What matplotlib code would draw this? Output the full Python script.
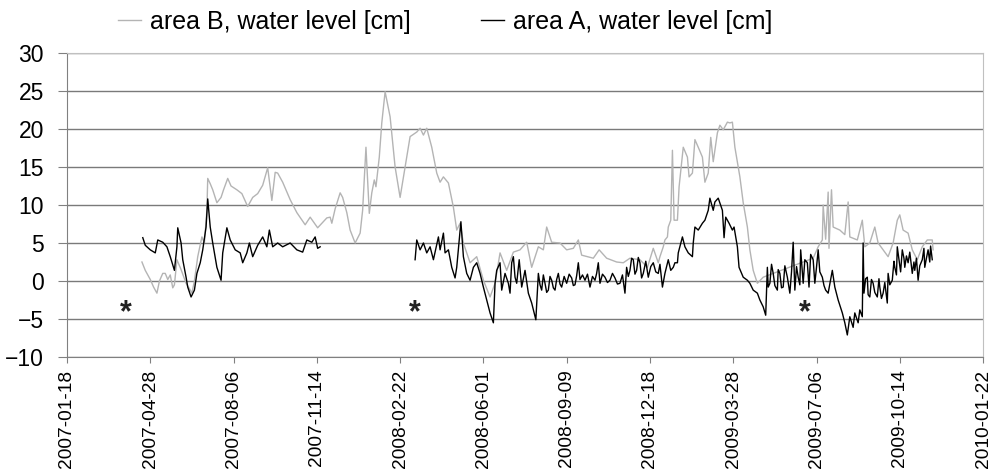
import numpy as np
import matplotlib
matplotlib.use("Agg")
import matplotlib.pyplot as plt
import matplotlib.dates as mdates

plt.rcParams['font.family'] = ['Liberation Sans', 'DejaVu Sans']

# days counted from 2007-01-18
start = np.datetime64('2007-01-18')

# area A, water level [cm], first logger period
a_days_1 = [91, 94, 100, 106, 109, 115, 120, 124, 129, 132,
            133, 137, 139, 143, 145, 149, 153, 156, 160, 163,
            167, 169, 172, 175, 180, 185, 187, 192, 196, 202,
            208, 211, 216, 219, 223, 229, 235, 240, 243, 247,
            253, 259, 268, 276, 283, 288, 294, 298, 301, 304]
a_vals_1 = [5.7, 4.7, 4.1, 3.7, 5.4, 5.1, 4.5, 3.2, 1.4, 4.5,
            7.0, 5.0, 2.8, 0.5, -0.8, -2.1, -1.2, 1.0, 2.4, 4.1,
            7.1, 10.8, 7.1, 5.0, 1.8, 0.1, 3.7, 7.0, 5.4, 4.1,
            3.7, 2.4, 3.7, 5.0, 3.2, 4.7, 5.8, 4.5, 6.7, 4.5,
            5.0, 4.5, 5.0, 4.1, 3.8, 5.4, 5.1, 5.8, 4.3, 4.5]

# area A, water level [cm], second logger period
a_days_2 = [418, 420, 424, 428, 432, 436, 440, 446, 448, 452,
            454, 458, 462, 466, 468, 471, 473, 476, 480, 484,
            488, 492, 496, 500, 504, 508, 512, 514, 516, 520,
            522, 526, 530, 532, 534, 536, 538, 540, 543, 546,
            550, 554, 558, 563, 566, 568, 570, 572, 574, 576,
            578, 580, 582, 584, 586, 588, 590, 592, 594, 597,
            600, 603, 606, 608, 610, 612, 614, 616, 619, 622,
            625, 628, 631, 634, 636, 638, 640, 643, 646, 649,
            652, 655, 658, 661, 664, 667, 670, 672, 674, 676,
            678, 680, 682, 684, 686, 688, 690, 692, 695, 698,
            701, 704, 707, 710, 712, 715, 718, 722, 725, 728,
            730, 733, 734, 739, 742, 746, 751, 752, 754, 758,
            763, 766, 770, 772, 776, 778, 782, 787, 789, 791,
            795, 799, 801, 805, 807, 812, 817, 820, 824, 829,
            832, 836, 839, 841, 842, 844, 846, 848, 850, 853,
            854, 856, 858, 860, 862, 865, 867, 868, 870, 872,
            874, 876, 878, 880, 881, 884, 886, 889, 891, 893,
            896, 898, 900, 902, 904, 907, 909, 911, 914, 919,
            922, 926, 931, 934, 937, 940, 944, 946, 950, 952,
            955, 956, 957, 959, 961, 962, 964, 966, 968, 970,
            973, 975, 976, 978, 980, 982, 985, 986, 988, 991,
            993, 994, 996, 997, 999, 1001, 1003, 1005, 1006, 1008,
            1010, 1012, 1015, 1017, 1018, 1020, 1022, 1024, 1027, 1029,
            1030, 1032, 1034, 1036, 1037, 1039]
a_vals_2 = [2.8, 5.4, 4.1, 5.0, 3.7, 4.5, 2.8, 5.8, 4.1, 6.3,
            3.7, 4.1, 1.8, 0.4, 1.8, 5.4, 7.8, 3.2, 1.0, 0.1,
            1.8, 2.4, 1.0, -0.8, -2.5, -4.2, -5.5, -0.3, 1.4, 2.4,
            -1.2, 1.0, -0.3, -1.6, 2.4, 3.2, 0.5, -0.3, 2.8, -0.8,
            1.4, -1.6, -2.9, -5.1, 1.0, -0.5, -1.2, 0.8, -0.3, -1.5,
            -1.2, 0.6, 0.1, -0.9, -1.2, 0.2, 1.0, -0.4, -0.8, 0.6,
            -0.3, 0.9, 0.4, -0.6, -0.5, 0.7, 2.4, 0.2, 0.8, 0.1,
            0.9, -0.8, 0.6, 0.1, 1.0, 2.4, -0.3, 0.9, 0.5, -0.2,
            0.1, 1.0, 0.4, -0.4, -0.3, 0.8, -1.6, 1.8, 0.6, 1.4,
            3.0, 2.8, 0.9, 1.4, 3.1, 2.4, 0.4, 1.0, 2.6, 0.5,
            1.9, 2.4, 1.2, 1.0, 2.2, -0.8, 1.0, 2.8, 1.4, 1.8,
            2.4, 2.4, 3.7, 5.8, 4.5, 3.7, 3.2, 5.0, 7.1, 6.7,
            7.6, 8.0, 9.3, 10.9, 9.3, 10.4, 10.9, 9.3, 5.7, 8.4,
            7.6, 6.7, 7.1, 4.5, 1.8, 0.5, 0.1, -0.3, -1.2, -1.6,
            -2.5, -3.4, -4.5, 1.8, -0.8, -0.3, 2.2, 1.0, -0.6, -1.2,
            1.5, 1.0, -0.9, -0.8, 2.0, 0.5, -0.9, -1.6, 1.2, 5.1,
            -1.2, 1.9, 0.5, -0.5, 4.1, -0.3, 2.8, 2.4, -0.8, 3.5,
            2.8, -0.3, 1.8, 4.1, 1.2, 0.5, -0.6, -1.2, -1.6, 1.4,
            -0.8, -2.5, -4.2, -5.5, -7.1, -4.7, -6.1, -4.2, -5.5, -3.8,
            -4.7, 5.0, -1.6, 0.3, 0.5, -1.8, -2.1, 0.2, -0.3, -1.5,
            -2.1, 0.3, -0.8, -2.3, -1.6, -0.2, -2.9, 1.0, -0.5, 0.1,
            2.6, 1.8, 0.8, 4.5, 2.8, 1.2, 4.1, 3.0, 1.8, 3.3,
            2.4, 3.8, 1.0, 2.5, 1.4, 3.0, 0.1, 2.0, 2.8, 4.3,
            1.8, 3.0, 4.1, 2.5, 4.6, 2.8]

# area B, water level [cm]
b_days = [90, 94, 100, 104, 108, 111, 115, 118, 121, 124, 127, 129, 132, 137, 143,
          147, 150, 153, 157, 162, 165, 168, 169, 172, 175, 180, 185, 188, 193, 197,
          204, 210, 217, 223, 229, 235, 241, 246, 250, 253, 259, 268, 276, 286, 292,
          301, 312, 316, 318, 322, 328, 331, 336, 340, 346, 352, 355, 359, 363, 366,
          369, 371, 375, 378, 382, 388, 394, 400, 406, 412, 420, 424, 428, 432, 438,
          444, 448, 452, 458, 464, 468, 472, 476, 484, 492, 500, 508, 514, 520, 528,
          536, 544, 552, 558, 566, 572, 576, 582, 592, 600, 608, 614, 618, 632, 639,
          648, 660, 668, 676, 688, 697, 704, 710, 712, 716, 718, 721, 722, 725, 727,
          729, 733, 735, 740, 745, 747, 751, 754, 758, 763, 766, 770, 773, 776, 781,
          784, 788, 793, 796, 799, 802, 808, 812, 817, 820, 824, 829, 836, 848, 860,
          872, 884, 896, 902, 907, 908, 911, 914, 915, 918, 920, 928, 934, 938, 940,
          949, 952, 955, 958, 964, 970, 974, 980, 986, 992, 997, 1000, 1004, 1010, 1015,
          1021, 1027, 1033, 1039, 1040]
b_vals = [2.5, 1.4, 0.2, -0.8, -1.6, 0.0, 1.0, 1.0, 0.2, 0.8, -0.9, -0.5, 2.8, 1.5, -0.3,
          -1.0, -1.6, 0.0, 3.2, 5.8, 5.0, 9.3, 13.5, 12.8, 12.0, 10.3, 11.0, 12.0, 13.5, 12.5,
          12.0, 11.5, 9.8, 11.0, 11.5, 12.6, 14.9, 10.6, 14.3, 14.2, 13.0, 10.7, 9.0, 7.4, 8.4,
          7.0, 8.3, 8.4, 7.6, 9.5, 11.6, 11.0, 9.0, 6.7, 5.0, 6.3, 9.3, 17.6, 8.9, 11.6,
          13.3, 12.4, 16.3, 20.8, 24.9, 21.6, 15.0, 11.0, 15.0, 19.0, 19.6, 20.1, 19.2, 20.1, 17.6,
          14.2, 13.0, 13.7, 12.9, 9.7, 6.7, 7.6, 5.0, 2.4, 3.2, 0.1, -2.1, -0.3, 3.7, 1.4,
          3.8, 4.1, 5.1, 1.8, 4.5, 4.1, 7.1, 5.1, 5.0, 4.1, 4.3, 5.4, 3.4, 3.0, 4.1,
          3.0, 2.5, 2.4, 3.0, 2.8, 1.8, 4.3, 2.4, 3.2, 4.5, 5.4, 5.8, 7.1, 8.0, 17.2,
          8.0, 8.0, 12.4, 17.6, 16.3, 13.7, 14.2, 18.6, 17.6, 16.3, 13.0, 14.2, 18.9, 15.7, 19.5,
          20.5, 19.9, 20.9, 20.8, 20.9, 17.6, 13.7, 10.3, 7.1, 4.1, 1.4, -0.3, 0.5, 1.0, 1.5,
          2.0, 2.5, 3.0, 4.5, 5.4, 10.0, 5.5, 11.7, 4.3, 12.0, 7.1, 6.7, 6.1, 10.4, 5.8,
          5.4, 6.7, 8.0, 4.5, 5.0, 7.1, 5.0, 4.1, 3.2, 5.0, 8.0, 8.7, 6.7, 6.3, 4.1,
          2.8, 4.5, 5.4, 5.4, 4.1]

# days marked with an asterisk
star_days = [71, 418, 886]
star_level = -4.3

tick_days = np.arange(0, 1101, 100)


def to_dates(days):
    return start + np.array(days).astype('timedelta64[D]')


# one line for area A, broken by a nan between the two periods
a_dates = np.concatenate([to_dates(a_days_1), [np.datetime64('NaT')], to_dates(a_days_2)])
a_vals = np.concatenate([a_vals_1, [np.nan], a_vals_2])
b_dates = to_dates(b_days)
star_dates = to_dates(star_days)
tick_dates = to_dates(tick_days)

fig = plt.figure(figsize=(9.88, 4.69), dpi=100)
ax = fig.add_axes([0.0678, 0.2388, 0.9272, 0.6482])

ax.plot(b_dates, b_vals, color='#b4b4b4', lw=1.0, label='area B, water level [cm]')
ax.plot(a_dates, a_vals, color='#000000', lw=1.0, label='area A, water level [cm]')

for d in star_dates:
    ax.text(d, star_level, '*', ha='center', va='center', fontsize=22,
            fontweight='bold', color='#222222')

ax.set_ylim(-10, 30)
ax.set_yticks(np.arange(-10, 31, 5))
ax.set_xlim(tick_dates[0], tick_dates[-1])
ax.set_xticks(tick_dates)
ax.xaxis.set_major_formatter(mdates.DateFormatter('%Y-%m-%d'))
ax.tick_params(axis='x', labelrotation=90, labelsize=13.8, length=4, color='#808080', pad=5)
ax.tick_params(axis='y', labelsize=16.5, length=6.5, color='#808080', pad=10)

ax.yaxis.grid(True, color='#7a7a7a', lw=1.0)
ax.set_axisbelow(True)
for side in ['left', 'bottom']:
    ax.spines[side].set_color('#808080')
for side in ['top', 'right']:
    ax.spines[side].set_color('#c0c0c0')

fig.legend(loc='center left', bbox_to_anchor=(0.1194, 0.953), ncol=2, frameon=False,
           fontsize=18, handlelength=0.92, handletextpad=0.36, columnspacing=2.8,
           borderpad=0, borderaxespad=0)

fig.savefig('out.png', dpi=100)
